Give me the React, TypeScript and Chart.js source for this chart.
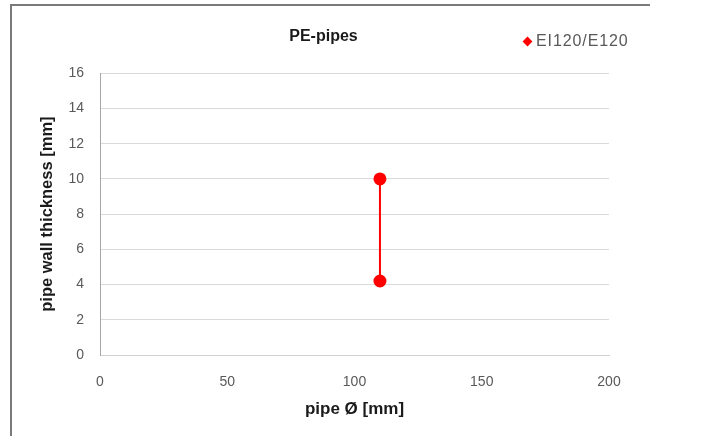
import React, { useEffect, useRef } from "react";
import { Chart, registerables } from "chart.js";

Chart.register(...registerables);

const seriesName = "EI120/E120";
const pipeDiameter = [110, 110];
const wallThickness = [10, 4.2];
const yTicks = [0, 2, 4, 6, 8, 10, 12, 14, 16];
const xTicks = [0, 50, 100, 150, 200];

const RED = "#ff0000";
const FONT = "'Liberation Sans', 'DejaVu Sans', sans-serif";

export default function App() {
  const ref = useRef<HTMLCanvasElement | null>(null);

  useEffect(() => {
    if (!ref.current) return;
    const points = pipeDiameter.map((x, i) => ({ x, y: wallThickness[i] }));
    const chart = new Chart(ref.current, {
      type: "scatter",
      data: {
        datasets: [
          {
            label: seriesName,
            data: points,
            showLine: true,
            borderColor: RED,
            backgroundColor: RED,
            borderWidth: 2,
            pointRadius: 5.5,
            pointHoverRadius: 5.5,
            pointStyle: "circle",
          },
        ],
      },
      options: {
        animation: false,
        responsive: false,
        maintainAspectRatio: false,
        layout: { padding: { left: 38, right: 93, top: 0, bottom: 16 } },
        plugins: {
          legend: { display: false },
          tooltip: { enabled: false },
          title: {
            display: true,
            text: "PE-pipes",
            color: "#1a1a1a",
            font: { family: FONT, size: 16, weight: "bold" },
            padding: { top: 27, bottom: 27 },
          },
        },
        scales: {
          x: {
            type: "linear",
            min: xTicks[0],
            max: xTicks[xTicks.length - 1],
            afterBuildTicks: (s: any) => {
              s.ticks = xTicks.map((v) => ({ value: v }));
            },
            afterFit: (s: any) => {
              s.height = 65;
            },
            grid: { display: false, drawTicks: false },
            border: { display: true, color: "#d0d0d0", width: 1 },
            ticks: {
              color: "#595959",
              padding: 19,
              font: { family: FONT, size: 14 },
            },
            title: {
              display: true,
              text: "pipe Ø [mm]",
              color: "#1a1a1a",
              font: { family: FONT, size: 17, weight: "bold" },
              padding: { top: 0, bottom: 0 },
            },
          },
          y: {
            type: "linear",
            min: yTicks[0],
            max: yTicks[yTicks.length - 1],
            afterBuildTicks: (s: any) => {
              s.ticks = yTicks.map((v) => ({ value: v }));
            },
            afterFit: (s: any) => {
              s.width = 62;
            },
            grid: { color: "#d9d9d9", lineWidth: 1, drawTicks: false },
            border: { display: true, color: "#a6a6a6", width: 1 },
            ticks: {
              color: "#595959",
              padding: 16,
              font: { family: FONT, size: 14 },
            },
            title: {
              display: true,
              text: "pipe wall thickness [mm]",
              color: "#1a1a1a",
              font: { family: FONT, size: 16.5, weight: "bold" },
              padding: { top: 0, bottom: 0 },
            },
          },
        },
      },
    });
    return () => chart.destroy();
  }, []);

  return (
    <div
      style={{
        position: "fixed",
        left: 0,
        top: 0,
        width: 702,
        height: 436,
        background: "#ffffff",
        overflow: "hidden",
      }}
    >
      <div
        style={{
          position: "absolute",
          left: 10,
          top: 4,
          width: 638,
          height: 460,
          borderTop: "2px solid #7a7a7a",
          borderLeft: "2px solid #7a7a7a",
        }}
      />
      <canvas
        ref={ref}
        width={702}
        height={436}
        style={{ position: "absolute", left: 0, top: 0, width: 702, height: 436 }}
      />
      <div
        style={{
          position: "absolute",
          left: 524,
          top: 32,
          display: "flex",
          alignItems: "center",
          fontFamily: FONT,
          fontSize: 16,
          lineHeight: "18px",
          letterSpacing: 0.9,
          color: "#595959",
        }}
      >
        <span
          style={{
            display: "inline-block",
            width: 7,
            height: 7,
            background: RED,
            transform: "rotate(45deg)",
            marginRight: 5,
          }}
        />
        <span>{seriesName}</span>
      </div>
    </div>
  );
}
